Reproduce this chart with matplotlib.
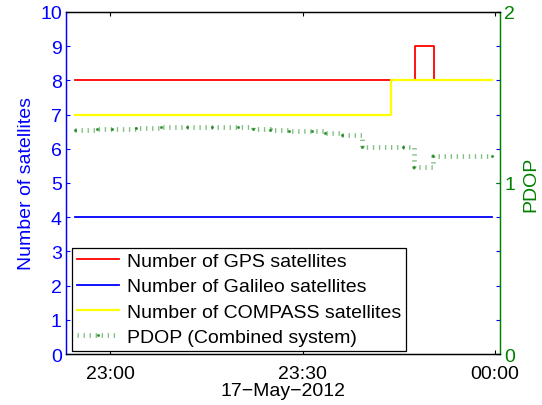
import numpy as np
import pandas as pd
import matplotlib
matplotlib.use("Agg")
import matplotlib.pyplot as plt
import matplotlib.dates as mdates

plt.rcParams['font.family'] = ['Liberation Sans', 'DejaVu Sans']
plt.rcParams['font.size'] = 14

day = "2012-05-17 "

# satellite counts (breakpoints of step series)
gps_t = ["22:54:30", "23:47:30", "23:50:30", "23:59:30"]
gps_n = [8, 9, 8, 8]
gal_t = ["22:54:30", "23:59:30"]
gal_n = [4, 4]
cmp_t = ["22:54:30", "23:43:45", "23:59:30"]
cmp_n = [7, 8, 8]

# PDOP of combined system
pdop_t = ["22:54:30", "22:58:00", "23:00:20", "23:04:00", "23:08:00", "23:12:00",
          "23:15:55", "23:20:00", "23:22:20", "23:25:00", "23:27:55", "23:31:30",
          "23:33:30", "23:36:10", "23:39:20", "23:45:40", "23:47:20", "23:50:20",
          "23:59:30"]
pdop_v = [1.312, 1.315, 1.318, 1.322, 1.326, 1.328,
          1.329, 1.327, 1.318, 1.312, 1.306, 1.302,
          1.295, 1.283, 1.209, 1.209, 1.095, 1.160,
          1.160]

xlim_t = ["22:53:08", "00:00:47"]
xtick_t = ["23:00:00", "23:30:00", "00:00:00"]


def to_dt(lst):
    out = []
    for s in lst:
        d = "2012-05-18 " if s.startswith("00:") else day
        out.append(pd.Timestamp(d + s))
    return out


fig = plt.figure(figsize=(5.42, 4.06), dpi=100)
ax = fig.add_axes([0.1218, 0.1256, 0.8007, 0.8424])
ax2 = ax.twinx()

l1, = ax.plot(to_dt(gps_t), gps_n, color='#ff0000', lw=1.3, drawstyle='steps-post',
              label='Number of GPS satellites')
l2, = ax.plot(to_dt(gal_t), gal_n, color='#0000ff', lw=1.3, drawstyle='steps-post',
              label='Number of Galileo satellites')
l3, = ax.plot(to_dt(cmp_t), cmp_n, color='#ffff00', lw=1.6, drawstyle='steps-post',
              label='Number of COMPASS satellites')

l4, = ax2.plot(to_dt(pdop_t), pdop_v, color='#3c9c3c', alpha=0.65, lw=3.4,
               drawstyle='steps-post', dashes=(0.28, 1.0), dash_capstyle='butt',
               marker='.', ms=2.5, mfc='#0a7a0a', mec='#0a7a0a',
               label='PDOP (Combined system)')

ax.set_xlim(to_dt(xlim_t))
ax.set_ylim(0, 10)
ax.set_yticks(range(0, 11))
ax.set_xticks(to_dt(xtick_t))
ax.xaxis.set_major_formatter(mdates.DateFormatter('%H:%M'))
ax.set_xlabel('17\u2212May\u22122012', labelpad=0)
ax.set_ylabel('Number of satellites', color='#0000ff', labelpad=4)

ax2.set_ylim(0, 2)
ax2.set_yticks([0, 1, 2])
ax2.set_ylabel('PDOP', color='#008000', labelpad=5)

ax.tick_params(axis='y', colors='#0000ff', direction='in', length=3, right=True, pad=3)
ax.tick_params(axis='x', colors='black', direction='in', length=3, top=True, pad=8)
ax2.tick_params(axis='y', colors='#008000', direction='in', length=3, pad=3)

for a in (ax, ax2):
    for sp in a.spines.values():
        sp.set_linewidth(0.9)
ax.spines['left'].set_color('#0000ff')
ax2.spines['left'].set_color('#0000ff')
ax2.spines['right'].set_color('#008000')
ax.spines['right'].set_color('#008000')

leg = ax2.legend(handles=[l1, l2, l3, l4], loc='lower left',
                 bbox_to_anchor=(0.013, 0.01), borderaxespad=0,
                 fancybox=False, edgecolor='black', framealpha=1,
                 handlelength=2.2, handletextpad=0.4, labelspacing=0.39,
                 borderpad=0.25, fontsize=14)
leg.get_frame().set_linewidth(0.9)

fig.savefig('out.png', dpi=100)
